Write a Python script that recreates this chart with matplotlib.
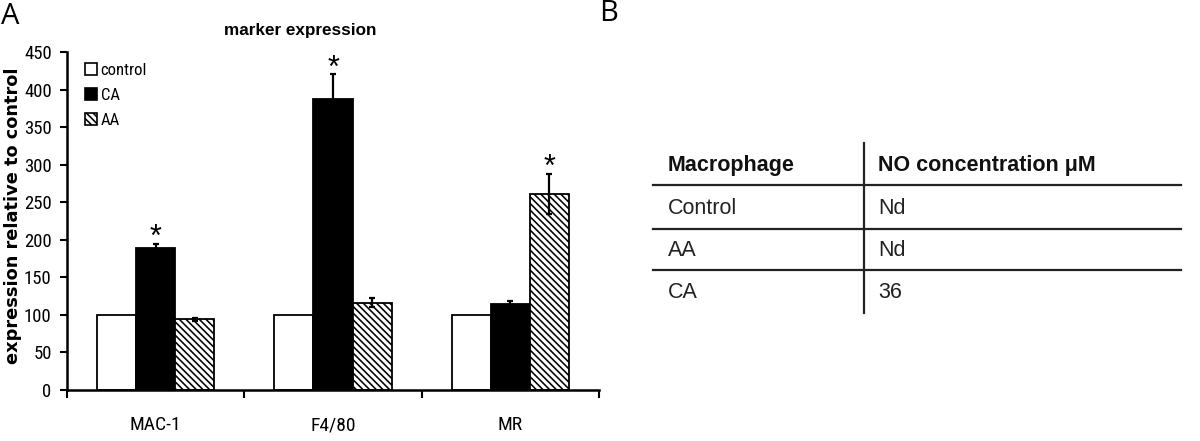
import matplotlib
matplotlib.use("Agg")
import matplotlib.pyplot as plt
from matplotlib import font_manager as fm
from matplotlib.patches import Patch
from matplotlib.lines import Line2D
import numpy as np

# ---------------- data ----------------
categories = ["MAC-1", "F4/80", "MR"]
series_names = ["control", "CA", "AA"]
control_vals = [100, 100, 100]
ca_vals = [189, 388, 114]
ca_errs = [6, 33, 4]
aa_vals = [94, 116, 261]
aa_errs = [2, 6, 27]
ca_signif = [True, True, False]
aa_signif = [False, False, True]
y_ticks = [0, 50, 100, 150, 200, 250, 300, 350, 400, 450]
chart_title = "marker expression"
y_label = "expression relative to control"

table_header = ["Macrophage", "NO concentration \u03bcM"]
table_col1 = ["Control", "AA", "CA"]
table_col2 = ["Nd", "Nd", "36"]

# find a condensed / narrow font if one is installed
narrow_file = None
cands = []
for f in fm.fontManager.ttflist:
    nm = f.name
    st = str(f.stretch)
    is_narrow = ("Narrow" in nm or "Condensed" in nm or st in ("condensed", "semi-condensed", "extra-condensed")
                 or "Condensed" in f.fname or "Narrow" in f.fname)
    if is_narrow and f.style == "normal" and (f.weight in (400, "normal", "regular")):
        cands.append(f)
pref = ["Liberation Sans Narrow", "Arial Narrow", "Roboto Condensed", "Open Sans Condensed",
        "Noto Sans", "DejaVu Sans"]
cands.sort(key=lambda f: pref.index(f.name) if f.name in pref else 99)
if cands:
    narrow_file = cands[0].fname
sans = "Liberation Sans"


def nprops(size):
    if narrow_file:
        return fm.FontProperties(fname=narrow_file, size=size)
    return fm.FontProperties(family=sans, size=size * 0.9)


plt.rcParams["hatch.linewidth"] = 1.15
plt.rcParams["font.family"] = [sans, "DejaVu Sans"]

W, H = 1200, 441
fig = plt.figure(figsize=(W / 100, H / 100), dpi=100)


def fx(px):
    return px / W


def fy(py):
    return 1 - py / H


ax = fig.add_axes([fx(67), fy(390), fx(599 - 67), (390 - 52) / H])

x = np.arange(len(categories))
bw = 0.22
ax.bar(x - bw, control_vals, bw, color="white", edgecolor="black", linewidth=1.3, zorder=2)
ax.bar(x, ca_vals, bw, color="black", edgecolor="black", linewidth=1.3, zorder=2)
ax.bar(x + bw, aa_vals, bw, color="white", edgecolor="black", linewidth=1.3,
       hatch="\\\\\\\\\\", zorder=2)

ax.errorbar(x, ca_vals, yerr=ca_errs, fmt="none", ecolor="black", capsize=2.5,
            elinewidth=1.6, capthick=1.6, zorder=3)
ax.errorbar(x + bw, aa_vals, yerr=aa_errs, fmt="none", ecolor="black", capsize=2.5,
            elinewidth=1.6, capthick=1.6, zorder=3)

for i in range(len(categories)):
    if ca_signif[i]:
        ax.annotate("*", (x[i], ca_vals[i] + ca_errs[i]), xytext=(0, -7),
                    textcoords="offset points", ha="center", va="bottom",
                    fontsize=22, family=sans)
    if aa_signif[i]:
        ax.annotate("*", (x[i] + bw, aa_vals[i] + aa_errs[i]), xytext=(0, -7),
                    textcoords="offset points", ha="center", va="bottom",
                    fontsize=22, family=sans)

ax.set_xlim(-0.5, len(categories) - 0.5)
ax.set_ylim(0, 450)
ax.set_yticks(y_ticks)
ax.set_yticklabels([str(t) for t in y_ticks], fontproperties=nprops(13.5))
ax.set_xticks(x)
ax.set_xticklabels(categories, fontproperties=nprops(14))
ax.set_xticks(np.arange(len(categories) + 1) - 0.5, minor=True)
ax.tick_params(axis="x", which="major", length=0, pad=19)
ax.tick_params(axis="x", which="minor", length=6, width=1.5, direction="out")
ax.tick_params(axis="y", length=5, width=1.5, direction="out", pad=6)
for s in ["top", "right"]:
    ax.spines[s].set_visible(False)
for s in ["left", "bottom"]:
    ax.spines[s].set_linewidth(1.8)

ax.set_ylabel(y_label, family="DejaVu Sans", fontweight="bold", fontsize=12.8)
ax.yaxis.set_label_coords(-0.085, 0.515)

fig.text(fx(300), fy(31), chart_title, ha="center", va="center",
         fontweight="bold", fontsize=12.3, family=sans)

handles = [
    Patch(facecolor="white", edgecolor="black", linewidth=1.2),
    Patch(facecolor="black", edgecolor="black", linewidth=1.2),
    Patch(facecolor="white", edgecolor="black", linewidth=1.2, hatch="\\\\\\\\\\"),
]
leg = ax.legend(handles, series_names, loc="upper left",
                bbox_to_anchor=(0.018, 0.993), frameon=False, borderpad=0,
                handlelength=0.7, handleheight=0.7, handletextpad=0.25,
                labelspacing=0.6, prop=nprops(12))

# panel letters
fig.text(fx(1), fy(2), "A", ha="left", va="top", fontsize=21, family="Open Sans")
fig.text(fx(599), fy(-1), "B", ha="left", va="top", fontsize=21, family="Open Sans")

# ---------------- table B ----------------
line_color = "#222222"
for yy in [185, 229, 270]:
    fig.add_artist(Line2D([fx(653), fx(1181)], [fy(yy), fy(yy)], color=line_color, lw=1.6))
fig.add_artist(Line2D([fx(864), fx(864)], [fy(143), fy(313)], color=line_color, lw=1.6))

fig.text(fx(668), fy(165), table_header[0], ha="left", va="center",
         fontweight="bold", fontsize=15.5, color="#111111")
fig.text(fx(878), fy(165), table_header[1], ha="left", va="center",
         fontweight="bold", fontsize=15.5, color="#111111")
row_y = [208, 251, 293]
for i in range(len(table_col1)):
    fig.text(fx(668), fy(row_y[i]), table_col1[i], ha="left", va="center",
             fontsize=15.5, color="#222222")
    fig.text(fx(878), fy(row_y[i]), table_col2[i], ha="left", va="center",
             fontsize=15.5, color="#222222")

fig.savefig("out.png", dpi=100)
